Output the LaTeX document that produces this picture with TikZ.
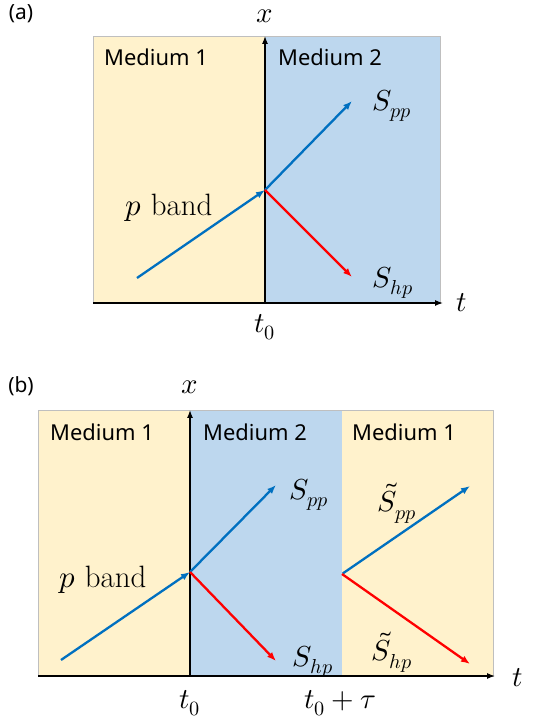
\documentclass[tikz,border=0pt]{standalone}
\usepackage{fontspec}
\usepackage{unicode-math}
\setsansfont{Noto Sans}
\setmathfont{Latin Modern Math}
\usetikzlibrary{arrows.meta}
\definecolor{mediumone}{HTML}{FFF2CC}
\definecolor{mediumtwo}{HTML}{BDD7EE}
\definecolor{waveblue}{HTML}{0070C0}
\definecolor{wavered}{HTML}{FF0000}
\begin{document}
\begin{tikzpicture}[x=1bp, y=1bp,
    medium/.style={font=\sffamily\fontsize{22}{26}\selectfont, anchor=west, inner sep=0pt},
    panel/.style={font=\sffamily\fontsize{21}{25}\selectfont},
    lbl/.style={font=\fontsize{29}{33}\selectfont, inner sep=1pt},
    band/.style={font=\fontsize{31}{35}\selectfont, inner sep=1pt},
    axis/.style={line width=1.3bp, -{Latex[length=8bp,width=6bp]}},
    pwave/.style={draw=waveblue, line width=2.3bp, -{Latex[length=9bp,width=7bp]}},
    hwave/.style={draw=wavered, line width=2.3bp, -{Latex[length=9bp,width=7bp]}}]
    \useasboundingbox (0,0) rectangle (537,723);

    % Panel (a): media
    \fill[mediumone] (93,420) rectangle (265,687);
    \fill[mediumtwo] (265,420) rectangle (440,687);
    \draw[black!25, line width=0.6bp] (93,420) rectangle (440,687);

    % Panel (a): axes
    \coordinate (aleft) at (93,420);
    \coordinate (ao)    at (265,420);
    \coordinate (atend) at (443,420);
    \coordinate (axend) at (265,687);
    \draw[axis] (aleft) -- (atend);
    \draw[axis] (ao) -- (axend);

    % Panel (a): labels
    \node[panel] (pa)  at (21,709)  {(a)};
    \node[lbl]   (xa)  at (265,707) {$x$};
    \node[lbl]   (ta)  at (462,420) {$t$};
    \node[lbl]   (t0a) at (265,396) {$t_0$};
    \node[medium] (m1a) at (104,666) {Medium 1};
    \node[medium] (m2a) at (278,666) {Medium 2};
    \node[band]  (pba)  at (169,515) {$p$ band};
    \node[lbl]   (sppa) at (392,617) {$S_{pp}$};
    \node[lbl]   (shpa) at (393,440) {$S_{hp}$};

    % Panel (a): bands
    \coordinate (ain)  at (137,445);
    \coordinate (ahit) at (265,533);
    \coordinate (app)  at (352,622);
    \coordinate (ahp)  at (352,446);
    \draw[pwave] (ain) -- (ahit);
    \draw[pwave] (ahit) -- (app);
    \draw[hwave] (ahit) -- (ahp);

    % Panel (b): media
    \fill[mediumone] (38,47) rectangle (190,313);
    \fill[mediumtwo] (190,47) rectangle (342,313);
    \fill[mediumone] (342,47) rectangle (493,313);
    \draw[black!25, line width=0.6bp] (38,47) rectangle (493,313);

    % Panel (b): axes
    \coordinate (bleft) at (38,47);
    \coordinate (bo)    at (190,47);
    \coordinate (btend) at (495,47);
    \coordinate (bxend) at (190,313);
    \draw[axis] (bleft) -- (btend);
    \draw[axis] (bo) -- (bxend);

    % Panel (b): labels
    \node[panel] (pb)  at (21,337)  {(b)};
    \node[lbl]   (xb)  at (190,336) {$x$};
    \node[lbl]   (tb)  at (518,45)  {$t$};
    \node[lbl]   (t0b) at (190,20)  {$t_0$};
    \node[lbl]   (t1b) at (340,20)  {$t_0+\tau$};
    \node[medium] (m1b) at (50,291)  {Medium 1};
    \node[medium] (m2b) at (203,291) {Medium 2};
    \node[medium] (m3b) at (352,291) {Medium 1};
    \node[band]  (pbb)  at (103,143) {$p$ band};
    \node[lbl]   (sppb) at (309,228) {$S_{pp}$};
    \node[lbl]   (shpb) at (313,61)  {$S_{hp}$};
    \node[lbl]   (tppb) at (397,220) {$\tilde{S}_{pp}$};
    \node[lbl]   (thpb) at (392,71)  {$\tilde{S}_{hp}$};

    % Panel (b): bands
    \coordinate (bin)   at (61,63);
    \coordinate (bhit)  at (190,151);
    \coordinate (bpp)   at (276,238);
    \coordinate (bhp)   at (276,62);
    \coordinate (bback) at (342,149);
    \coordinate (bpp2)  at (470,237);
    \coordinate (bhp2)  at (470,59);
    \draw[pwave] (bin) -- (bhit);
    \draw[pwave] (bhit) -- (bpp);
    \draw[hwave] (bhit) -- (bhp);
    \draw[pwave, shorten <=1bp] (bback) -- (bpp2);
    \draw[hwave] (bback) -- (bhp2);
\end{tikzpicture}
\end{document}
